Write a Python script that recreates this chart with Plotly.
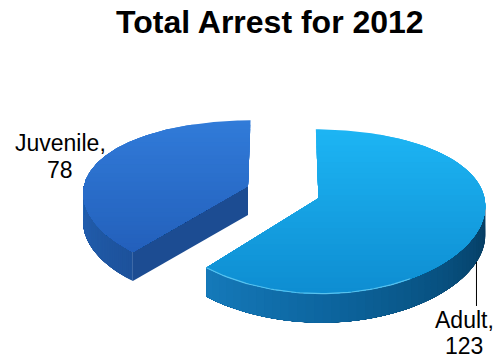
import numpy as np
import plotly.graph_objects as go

# ---------------- data ----------------
categories = ["Adult", "Juvenile"]
arrests = [123, 78]
title_text = "Total Arrest for 2012"

# ---------------- style ----------------
W, HT = 497, 358
FONT = "Arial, Liberation Sans, sans-serif"
top_colors = {"Adult": ("#1db5f4", "#0e8dd1"), "Juvenile": ("#317bd9", "#2360bb")}
wall_stops = {
    "Adult": [(90, "#05375a"), (140, "#085282"), (180, "#0d66a0"), (225, "#167cbd")],
    "Juvenile": [(210, "#1b4e96"), (275, "#2564b6")],
}
cut_color = {"Adult": "#0b6aa6", "Juvenile": "#1c4c92"}

# geometry of the pseudo-3D pie
CX, CY = 283.0, 192.0   # centre of the pie on screen
RX, RY = 165.0, 78.0    # radii of the top ellipse
DEPTH = 29.0            # thickness of the pie
P_Y, P_X = 0.16, 0.08   # perspective strength
PULL = 0.2275           # explode distance (fraction of radius)


def hex2rgb(h):
    h = h.lstrip("#")
    return np.array([int(h[i:i + 2], 16) for i in (0, 2, 4)], dtype=float)


def rgb2hex(c):
    c = np.clip(np.round(c), 0, 255).astype(int)
    return "#%02x%02x%02x" % tuple(c)


def mix(c1, c2, t):
    return rgb2hex(hex2rgb(c1) * (1 - t) + hex2rgb(c2) * t)


def stop_color(stops, deg):
    angs = [s[0] for s in stops]
    cols = np.array([hex2rgb(s[1]) for s in stops])
    return rgb2hex([np.interp(deg, angs, cols[:, k]) for k in range(3)])


def proj(X, Y, Z):
    s = 1.0 / (1.0 + P_Y * Y)
    sx = 1.0 / (1.0 + P_X * Y)
    return CX + RX * X * sx, CY - RY * Y * s + Z


def clip_below(poly, y0):
    """keep the part of polygon with y >= y0 (screen coords, y down)"""
    out = []
    n = len(poly)
    for i in range(n):
        p, q = poly[i], poly[(i + 1) % n]
        pin, qin = p[1] >= y0, q[1] >= y0
        if pin:
            out.append(p)
        if pin != qin:
            t = (y0 - p[1]) / (q[1] - p[1])
            out.append((p[0] + t * (q[0] - p[0]), y0))
    return out


fig = go.Figure()


def add_poly(pts, color):
    if len(pts) < 3:
        return
    xs = [p[0] for p in pts] + [pts[0][0]]
    ys = [p[1] for p in pts] + [pts[0][1]]
    fig.add_trace(go.Scatter(x=xs, y=ys, mode="lines", fill="toself",
                             fillcolor=color, line=dict(width=0, color=color),
                             hoverinfo="skip", showlegend=False))


total = float(sum(arrests))
start = 0.0
slices = []
for name, v in zip(categories, arrests):
    a = start
    b = start + 2 * np.pi * v / total
    start = b
    m = (a + b) / 2
    ox, oy = PULL * np.sin(m), PULL * np.cos(m)
    slices.append((name, v, a, b, ox, oy))


def arc_pts(ox, oy, t0, t1, Z, n):
    ts = np.linspace(t0, t1, n)
    return [proj(ox + np.sin(t), oy + np.cos(t), Z) for t in ts]


leader_anchor = None
for name, v, a, b, ox, oy in slices:
    # visible outer wall (front half)
    w0, w1 = max(a, np.pi / 2), min(b, 3 * np.pi / 2)
    if w1 > w0:
        N = 48
        for i in range(N):
            ti = w0 + (w1 - w0) * i / N
            tm = w0 + (w1 - w0) * (i + 0.5) / N
            top = arc_pts(ox, oy, ti, w1, 0, 40)
            bot = arc_pts(ox, oy, ti, w1, DEPTH, 40)[::-1]
            add_poly(top + bot, stop_color(wall_stops[name], np.degrees(tm)))
    # radial cut faces that face the viewer
    for ang, sign in ((a, -1), (b, 1)):
        ny = -sign * np.sin(ang)
        if ny < -0.05:
            c0 = proj(ox, oy, 0)
            e0 = proj(ox + np.sin(ang), oy + np.cos(ang), 0)
            e1 = proj(ox + np.sin(ang), oy + np.cos(ang), DEPTH)
            c1 = proj(ox, oy, DEPTH)
            add_poly([c0, e0, e1, c1], cut_color[name])
    # top face with vertical gradient
    poly = [proj(ox, oy, 0)] + arc_pts(ox, oy, a, b, 0, 200)
    ys = [p[1] for p in poly]
    ymin, ymax = min(ys), max(ys)
    NB = 30
    c_top, c_bot = top_colors[name]
    for k in range(NB):
        y0 = ymin + (ymax - ymin) * k / NB - (0.5 if k == 0 else 0)
        part = clip_below(poly, y0)
        add_poly(part, mix(c_top, c_bot, (k + 0.5) / NB))
    if name == "Adult":
        # subtle light rim along the front edge
        rim = arc_pts(ox, oy, np.radians(150), b, 0, 60)
        fig.add_trace(go.Scatter(x=[p[0] for p in rim], y=[p[1] for p in rim],
                                 mode="lines", line=dict(width=1.2, color="rgba(120,215,250,0.7)"),
                                 hoverinfo="skip", showlegend=False))
        leader_anchor = proj(ox + np.sin(np.radians(114)), oy + np.cos(np.radians(114)), DEPTH)

# leader line for the Adult label
label_pos = {"Adult": (464, 320, 346), "Juvenile": (60, 143, 170)}
lx = leader_anchor[0]
fig.add_trace(go.Scatter(x=[lx, lx], y=[leader_anchor[1], label_pos["Adult"][1] - 14],
                         mode="lines", line=dict(width=1, color="black"),
                         hoverinfo="skip", showlegend=False))

annotations = [dict(x=270, y=22, xref="x", yref="y", text=title_text, showarrow=False,
                    font=dict(family=FONT, size=32, color="black", weight="bold"))]
for name, v in zip(categories, arrests):
    x, y1, y2 = label_pos[name]
    annotations.append(dict(x=x, y=y1, xref="x", yref="y", text=name + ",", showarrow=False,
                            font=dict(family=FONT, size=23, color="black")))
    annotations.append(dict(x=x, y=y2, xref="x", yref="y", text=str(v), showarrow=False,
                            font=dict(family=FONT, size=23, color="black")))

fig.update_layout(
    width=W, height=HT, margin=dict(l=0, r=0, t=0, b=0),
    paper_bgcolor="white", plot_bgcolor="white",
    xaxis=dict(range=[0, W], visible=False, fixedrange=True),
    yaxis=dict(range=[HT, 0], visible=False, fixedrange=True),
    annotations=annotations, showlegend=False,
)

fig.write_html("out.html", config={"displayModeBar": False},
               post_script="document.body.style.margin='0';document.body.style.overflow='hidden';")
